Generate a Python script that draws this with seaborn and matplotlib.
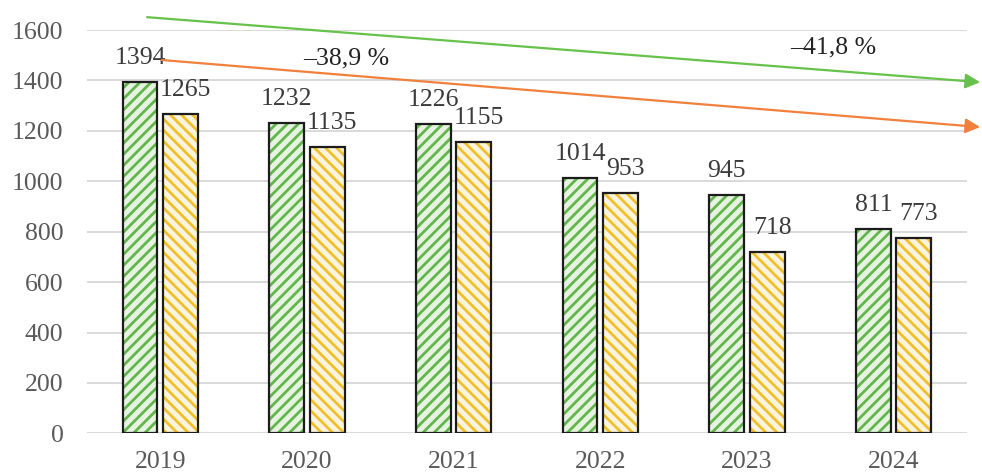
import numpy as np
import matplotlib
matplotlib.use('Agg')
import matplotlib.pyplot as plt
from matplotlib.patches import Rectangle
import seaborn as sns
import pandas as pd

# values
years = ['2019', '2020', '2021', '2022', '2023', '2024']
series_green = [1394, 1232, 1226, 1014, 945, 811]
series_yellow = [1265, 1135, 1155, 953, 718, 773]
series_names = ['green', 'yellow']
y_ticks = [0, 200, 400, 600, 800, 1000, 1200, 1400, 1600]

# trend arrows: (start x, start y, end x, end y) in data units, and their labels
trend_green = (-0.09, 1651, 5.59, 1393)
trend_orange = (0.01, 1481, 5.59, 1215)
trend_labels = ['\u201338,9 %', '\u201341,8 %']
trend_label_pos = [(1.27, 1489), (4.59, 1532)]

df = pd.DataFrame({
    'year': years * 2,
    'value': series_green + series_yellow,
    'series': [series_names[0]] * len(years) + [series_names[1]] * len(years),
})

sns.set_theme(style='white')
plt.rcParams['font.family'] = ['Liberation Serif', 'DejaVu Serif']
plt.rcParams['hatch.linewidth'] = 2.0

fig = plt.figure(figsize=(9.82, 4.75), dpi=100)
ax = fig.add_axes([0.0886, 0.0877, 0.8961, 0.8491])

# light background fill, hatch stripes in the series colour
stripe_colors = {'green': '#62b64c', 'yellow': '#f0c02c'}
back_colors = {'green': '#e6f6de', 'yellow': '#fff7da'}
sns.barplot(data=df, x='year', y='value', hue='series', palette=back_colors,
            width=0.553, gap=0.14, legend=False, ax=ax, linewidth=0, zorder=3)

hatches = ['///', '\\\\\\']
for cont, name, h in zip(ax.containers, series_names, hatches):
    for p in cont.patches:
        p.set_hatch(h)
        p.set_edgecolor(stripe_colors[name])
        p.set_linewidth(0)
        # dark outline on top
        ax.add_patch(Rectangle(p.get_xy(), p.get_width(), p.get_height(),
                               fill=False, edgecolor='#1c1c1c', linewidth=1.6, zorder=4))

# value labels
label_dx = [0, 5]
for cont, dx in zip(ax.containers, label_dx):
    for p, v in zip(cont.patches, cont.datavalues):
        ax.annotate(f'{int(v)}', (p.get_x() + p.get_width() / 2, p.get_height()),
                    xytext=(dx, 24), textcoords='offset pixels', ha='center', va='center',
                    fontsize=18.5, color='#3a3a3a', annotation_clip=False)

ax.set_ylim(0, 1600)
ax.set_xlim(-0.5, len(years) - 0.5)
ax.set_yticks(y_ticks)
ax.grid(axis='y', color='#d9d9d9', linewidth=1.4, zorder=0)
ax.set_axisbelow(True)
for s in ax.spines.values():
    s.set_visible(False)
ax.tick_params(axis='both', length=0, labelsize=18.5, labelcolor='#595959')
ax.tick_params(axis='x', pad=13)
ax.tick_params(axis='y', pad=17)
ax.set_xlabel('')
ax.set_ylabel('')

# trend arrows
for (x0, y0, x1, y1), col in [(trend_green, '#66c24a'), (trend_orange, '#f0803c')]:
    ax.annotate('', xy=(x1, y1), xytext=(x0, y0),
                arrowprops=dict(arrowstyle='-|>', color=col, lw=1.6, mutation_scale=22,
                                shrinkA=0, shrinkB=0),
                annotation_clip=False, zorder=5)

for txt, (tx, ty) in zip(trend_labels, trend_label_pos):
    ax.text(tx, ty, txt, ha='center', va='center', fontsize=18.5, color='#222222', clip_on=False)

plt.savefig('out.png', dpi=100)
